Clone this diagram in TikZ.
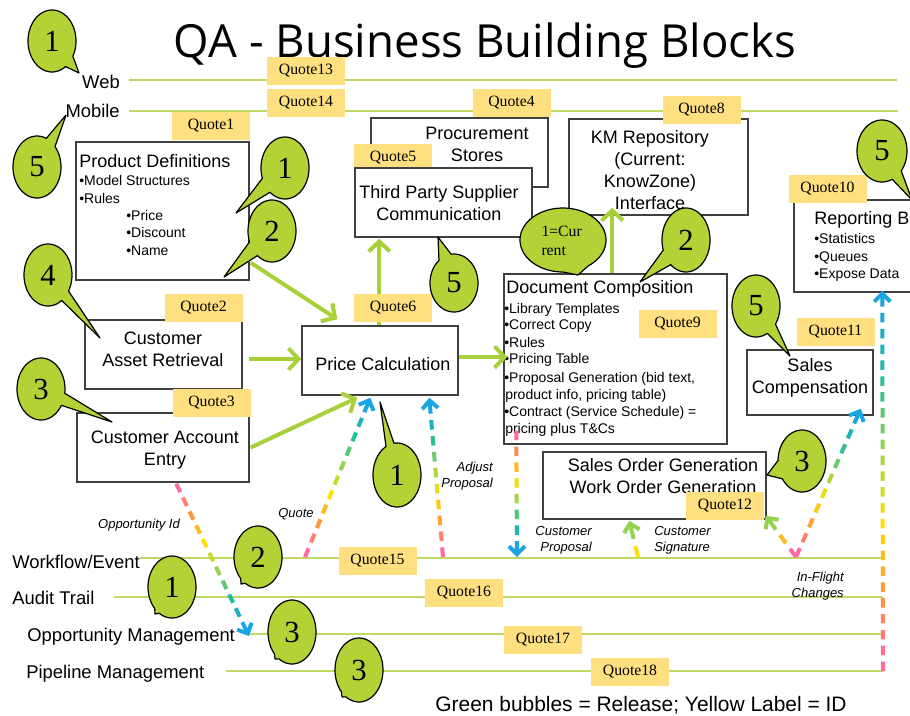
\documentclass[tikz,border=0pt]{standalone}
\usepackage{fontspec}
\setmainfont{Liberation Sans}
\newfontfamily\tnr{Liberation Serif}
\newfontfamily\ttlfont{Open Sans}
\usetikzlibrary{calc,arrows.meta,fit}

\definecolor{boxgray}{RGB}{64,64,64}
\definecolor{quoteY}{RGB}{255,224,128}
\definecolor{bubG}{RGB}{178,210,53}
\definecolor{arrowG}{RGB}{168,208,56}
\definecolor{lineG}{RGB}{190,218,100}
\definecolor{g0}{RGB}{255,105,160}
\definecolor{g1}{RGB}{255,150,60}
\definecolor{g2}{RGB}{255,225,0}
\definecolor{g3}{RGB}{150,210,80}
\definecolor{g4}{RGB}{30,190,160}
\definecolor{g5}{RGB}{25,165,225}

\tikzset{
 box/.style={draw=boxgray, fill=white, line width=1.1pt, inner sep=0pt, rectangle},
 quote/.style={fill=quoteY, inner sep=0pt, minimum width=58.5pt, minimum height=21pt, font=\tnr\fontsize{11.8}{13}\selectfont},
 hline/.style={draw=lineG, line width=1.1pt},
 garrow/.style={draw=arrowG, line width=3pt, -{Straight Barb[length=7.5pt,width=16pt]}},
 bubble/.style={fill=bubG, draw=black, line width=0.9pt, line join=round},
 bubtext/.style={font=\tnr\fontsize{23}{25}\selectfont, inner sep=0pt},
 bubextra/.style={},
 ttitle/.style={font=\fontsize{13.5}{16.5}\selectfont, inner sep=0pt},
 tbullet/.style={font=\fontsize{10.5}{12.75}\selectfont, inner sep=0pt},
 tlabel/.style={font=\fontsize{13.8}{16}\selectfont, inner sep=0pt},
 tital/.style={font=\itshape\fontsize{9.75}{12}\selectfont, inner sep=0pt},
 dseg/.style={line width=3pt},
}

\newcommand\gradcolor[1]{%
  \pgfmathsetmacro\grs{min(4.999,max(0,(#1)*5))}%
  \pgfmathtruncatemacro\gri{floor(\grs)}%
  \pgfmathtruncatemacro\grj{\gri+1}%
  \pgfmathtruncatemacro\grp{100-(\grs-\gri)*100}%
  \colorlet{gc}{g\gri!\grp!g\grj}}

\newcommand\graddash[5]{%
  \foreach \gk in {1,...,#3}{%
    \pgfmathsetmacro\gda{(\gk-1)/#3}%
    \pgfmathsetmacro\gdb{(\gk-0.4)/#3}%
    \pgfmathsetmacro\gdt{#4+(#5-#4)*(\gk-1)/(#3-1)}%
    \gradcolor{\gdt}%
    \ifnum\gk=#3\relax
      \draw[dseg, gc, -{Straight Barb[length=6pt,width=12pt]}] ($(#1)!\gda!(#2)$) -- (#2);
    \else
      \draw[dseg, gc] ($(#1)!\gda!(#2)$) -- ($(#1)!\gdb!(#2)$);
    \fi
  }}

\newcommand\bubble[9]{%
  \pgfmathsetmacro\bphi{atan2(((#7)-(#3))/(#5),((#6)-(#2))/(#4))}%
  \pgfmathsetmacro\bba{\bphi+#8}%
  \pgfmathsetmacro\bbb{\bphi+360-#8}%
  \filldraw[bubble] plot[domain=\bba:\bbb, samples=72, variable=\bv] ({#2+#4*cos(\bv)},{#3+#5*sin(\bv)}) -- (#6,#7) -- cycle;
  \node[bubtext, bubextra] (#1) at (#2,#3) {#9};}

\begin{document}
\begin{tikzpicture}[x=0.75pt,y=-0.75pt]
\useasboundingbox (0,0) rectangle (910,715);
\clip (0,0) rectangle (910,715);
\fill[white] (0,0) rectangle (910,715);

% title
\node[anchor=base, font=\ttlfont\fontsize{34.2}{36}\selectfont, inner sep=0pt] (title) at (485,57) {QA - Business Building Blocks};

% horizontal lanes
\coordinate (webL) at (129,80);  \coordinate (webR) at (897,80);
\coordinate (mobL) at (129,111); \coordinate (mobR) at (898,111);
\coordinate (wfL) at (140,558);  \coordinate (wfR) at (883,558);
\coordinate (atL) at (114,597);  \coordinate (atR) at (883,597);
\coordinate (omL) at (250,634);  \coordinate (omR) at (883,634);
\coordinate (pmL) at (226,671);  \coordinate (pmR) at (883,671);
\draw[hline] (webL) -- (webR);
\draw[hline] (mobL) -- (mobR);
\draw[hline] (wfL) -- (wfR);
\draw[hline] (atL) -- (atR);
\draw[hline] (omL) -- (omR);
\draw[hline] (pmL) -- (pmR);

\node[tlabel, anchor=base east] (lweb) at (120,88) {Web};
\node[tlabel, anchor=base east] (lmob) at (120,117.5) {Mobile};
\node[tlabel, anchor=base west] (lwf) at (12,568) {Workflow/Event};
\node[tlabel, anchor=base west] (lat) at (12,604) {Audit Trail};
\node[tlabel, anchor=base west] (lom) at (27,641) {Opportunity Management};
\node[tlabel, anchor=base west] (lpm) at (26,678) {Pipeline Management};

% boxes
\node[box, fit={(76,142) (249,280)}] (pd) {};
\node[box, fit={(85,320) (242,389)}] (car) {};
\node[box, fit={(77,413) (249,482)}] (cae) {};
\node[box, fit={(302,326) (458,395)}] (pc) {};
\node[box, fit={(371,118) (548,187)}] (ps) {};
\node[quote] (q5) at (393,158) {Quote5};
\node[box, fit={(355,168) (532,237)}] (tps) {};
\node[box, fit={(569,119) (748,215)}] (km) {};
\node[box, fit={(504,274) (727,444)}] (dc) {};
\node[box, fit={(794,200) (930,292)}] (rb) {};
\node[box, fit={(747,350) (873,415)}] (sc) {};
\node[box, fit={(543,452) (766,519)}] (so) {};

% box texts
\node[ttitle, anchor=base west] (pdt) at (79,167.5) {Product Definitions};
\node[tbullet, anchor=base west] (pd1) at (79,185) {•Model Structures};
\node[tbullet, anchor=base west] (pd2) at (79,203) {•Rules};
\node[tbullet, anchor=base west] (pd3) at (126,220) {•Price};
\node[tbullet, anchor=base west] (pd4) at (126,237) {•Discount};
\node[tbullet, anchor=base west] (pd5) at (126,255) {•Name};

\node[ttitle, align=center] (cart) at (163,349) {Customer\\Asset Retrieval};
\node[ttitle, align=center] (caet) at (165,450.5) {Customer Account\\Entry};
\node[ttitle] (pct) at (383,364) {Price Calculation};
\node[ttitle, align=center] (pst) at (477,144.5) {Procurement\\Stores};
\node[ttitle, align=center] (tpst) at (439,203.5) {Third Party Supplier\\Communication};
\node[ttitle, align=center] (kmt) at (650,170.5) {KM Repository\\(Current:\\KnowZone)\\Interface};

\node[ttitle, anchor=base west] (dct) at (506,293.5) {Document Composition};
\node[tbullet, anchor=base west] (dc1) at (504,313) {•Library Templates};
\node[tbullet, anchor=base west] (dc2) at (504,329) {•Correct Copy};
\node[tbullet, anchor=base west] (dc3) at (504,347) {•Rules};
\node[tbullet, anchor=base west] (dc4) at (504,363) {•Pricing Table};
\node[tbullet, anchor=base west] (dc5) at (504,382) {•Proposal Generation (bid text,};
\node[tbullet, anchor=base west] (dc6) at (505,399) {product info, pricing table)};
\node[tbullet, anchor=base west] (dc7) at (504,416) {•Contract (Service Schedule) =};
\node[tbullet, anchor=base west] (dc8) at (505,433) {pricing plus T\&Cs};

\node[ttitle, anchor=base west] (rbt) at (814,224.5) {Reporting B};
\node[tbullet, anchor=base west] (rb1) at (814,243) {•Statistics};
\node[tbullet, anchor=base west] (rb2) at (814,261) {•Queues};
\node[tbullet, anchor=base west] (rb3) at (814,278) {•Expose Data};

\node[ttitle, align=center] (sct) at (810,378) {Sales\\Compensation};
\node[ttitle, align=center] (sot) at (663,476) {Sales Order Generation\\Work Order Generation};

% green arrows
\draw[garrow] ($(pd.south east)+(1,-18)$) -- ($(pc.north west)+(36,-6)$);
\draw[garrow] ($(car.east)+(6,4.5)$) -- ($(pc.west)+(0,-1.5)$);
\draw[garrow] ($(cae.east)+(1,0)$) -- ($(pc.south west)+(56,2)$);
\draw[garrow] ($(pc.north west)+(78,0)$) -- ($(tps.south west)+(25,1)$);
\draw[garrow] ($(pc.east)+(0,-3.5)$) -- ($(dc.west)+(4,-2)$);
\draw[garrow] ($(dc.north west)+(109,0)$) -- ($(km.south west)+(44,-8)$);

% gradient dashed arrows
\coordinate (oiA) at ($(cae.south west)+(100,1)$);
\coordinate (oiB) at (249,636);
\coordinate (qA) at (305,557);
\coordinate (qB) at ($(pc.south west)+(69,2)$);
\coordinate (apA) at (443,557);
\coordinate (apB) at ($(pc.south west)+(128,2)$);
\coordinate (cpA) at ($(dc.south west)+(13,-14)$);
\coordinate (cpB) at (517,557);
\coordinate (csA) at (638,557);
\coordinate (csB) at ($(so.south west)+(87,1)$);
\coordinate (ifV) at (796,557);
\coordinate (ifL) at ($(so.south east)+(-1,-4)$);
\coordinate (ifR) at ($(sc.south east)+(-13,-7)$);
\coordinate (tlB) at ($(rb.south west)+(89,-2)$);

\graddash{oiA}{oiB}{11}{0}{1}
\graddash{qA}{qB}{11}{0}{1}
\graddash{apA}{apB}{10}{0}{1}
\graddash{cpA}{cpB}{8}{0}{1}
\graddash{csA}{csB}{2}{0.4}{0.6}
\graddash{ifV}{ifL}{3}{0}{0.6}
\graddash{ifV}{ifR}{10}{0}{1}
\graddash{pmR}{tlB}{24}{0}{1}

\node[tital] (loi) at (139,525) {Opportunity Id};
\node[tital] (lq) at (296,514) {Quote};
\node[tital, align=right, anchor=east] (lap) at (493,476) {Adjust\\Proposal};
\node[tital, align=right, anchor=east] (lcp) at (592,540) {Customer\\Proposal};
\node[tital, align=left, anchor=west] (lcs) at (654,540) {Customer\\Signature};
\node[tital, align=right, anchor=east] (lif) at (844,586) {In-Flight\\Changes};

% quote labels
\node[quote] (q1) at (211,126) {Quote1};
\node[quote] (q2) at (203.5,308) {Quote2};
\node[quote] (q3) at (211.5,403) {Quote3};
\node[quote] (q4) at (511.5,102.5) {Quote4};
\node[quote] (q6) at (393,308) {Quote6};
\node[quote] (q8) at (701.5,110) {Quote8};
\node[quote] (q9) at (677.5,324) {Quote9};
\node[quote] (q10) at (827.5,189) {Quote10};
\node[quote] (q11) at (835.5,332) {Quote11};
\node[quote] (q12) at (725,506) {Quote12};
\node[quote] (q13) at (306,71) {Quote13};
\node[quote] (q14) at (306,102.5) {Quote14};
\node[quote] (q15) at (377.5,561) {Quote15};
\node[quote] (q16) at (464,593) {Quote16};
\node[quote] (q17) at (543,640) {Quote17};
\node[quote] (q18) at (630,672) {Quote18};

% bubbles
\bubble{b1}{52}{41}{24}{31}{79}{73}{13}{1}
\bubble{b2}{37}{167}{24}{31}{66}{115}{13}{5}
\bubble{b3}{285}{168}{24}{31}{236}{213}{16}{1}
\bubble{b4}{272}{231}{24}{31}{224}{277}{16}{2}
\bubble{b5}{48}{275}{24}{31}{100}{338}{12}{4}
\bubble{b6}{41}{389}{24}{31}{112}{422}{12}{3}
\bubble{b7}{454}{283}{24}{29}{438}{237}{16}{5}
\tikzset{bubextra/.style={font=\tnr\fontsize{11.8}{14.25}\selectfont, align=left, xshift=-1pt, yshift=-1pt}}
\bubble{b8}{563}{240}{43}{32}{578}{275}{18}{1=Cur\\rent}
\tikzset{bubextra/.style={}}
\bubble{b9}{686}{240}{24}{32}{640}{282}{16}{2}
\bubble{b10}{882}{151}{25}{31}{912}{200}{13}{5}
\bubble{b11}{756}{306}{24}{31}{790}{356}{13}{5}
\bubble{b12}{397}{475}{24}{32}{380}{402}{10}{1}
\bubble{b13}{802}{461}{24}{31}{767}{475}{18}{3}
\bubble{b14}{258}{557}{24}{31}{241}{584}{7}{2}
\bubble{b15}{172}{587}{24}{31}{155}{614}{7}{1}
\bubble{b16}{292}{632}{24}{32}{275}{659}{7}{3}
\bubble{b17}{359}{670}{24}{32}{342}{697}{7}{3}

% footer
\node[anchor=base, font=\fontsize{15.7}{18}\selectfont, inner sep=0pt] (foot) at (641,711) {Green bubbles = Release; Yellow Label = ID};
\end{tikzpicture}
\end{document}
